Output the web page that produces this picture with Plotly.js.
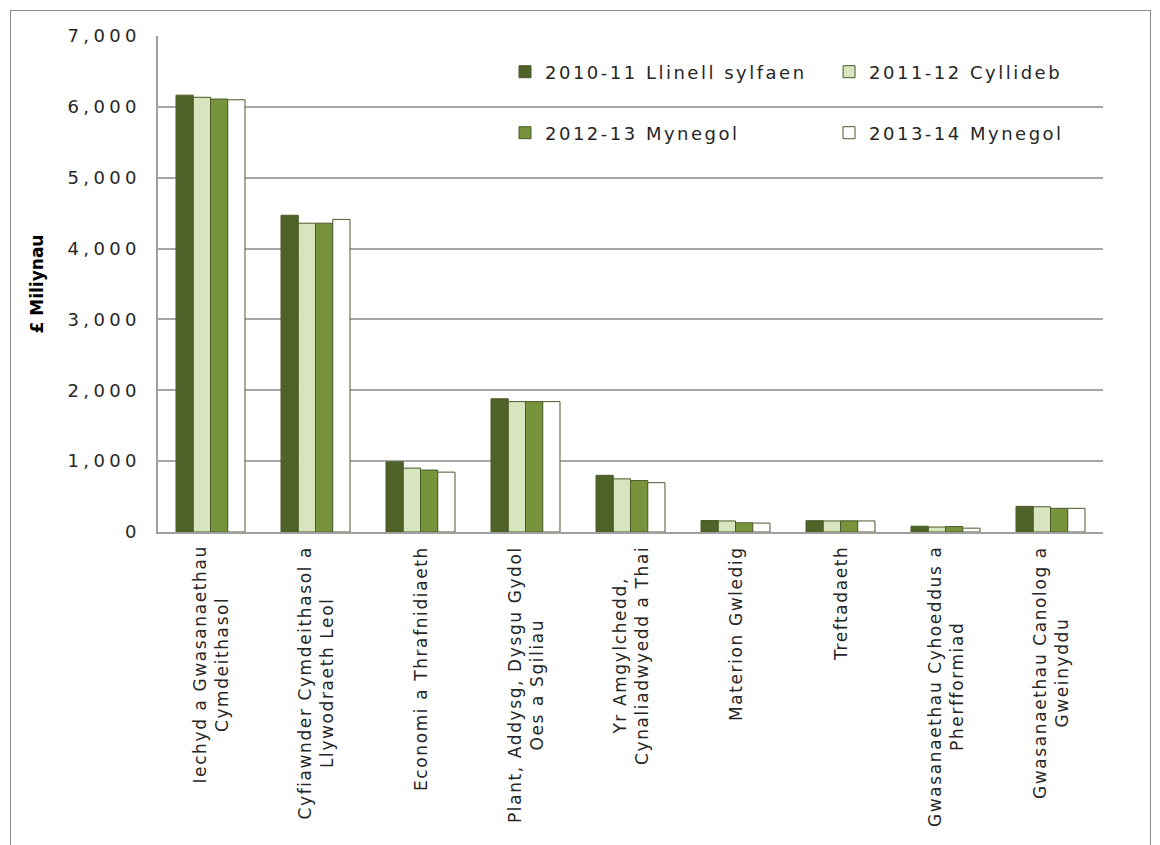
<!DOCTYPE html>
<html>
<head>
<meta charset="utf-8">
<script src="https://cdn.plot.ly/plotly-3.0.1.min.js"></script>
<style>
  html, body { margin: 0; padding: 0; background: #fff; }
  #chart { position: absolute; left: 0; top: 0; width: 1160px; height: 845px; }
  #frame { position: absolute; left: 10px; top: 10px; width: 1139px; height: 860px; border: 1px solid #8c8c8c; pointer-events: none; }
  #chart .ytick text { letter-spacing: 4.3px; }
  .legendtext, .legend2text, .legend3text, .legend4text { letter-spacing: 2.5px; }
  .annotation-text { letter-spacing: 1.6px; }
</style>
</head>
<body>
<div id="chart"></div>
<div id="frame"></div>
<script>
const categories = [
  "Iechyd a Gwasanaethau<br>Cymdeithasol",
  "Cyfiawnder Cymdeithasol a<br>Llywodraeth Leol",
  "Economi a Thrafnidiaeth",
  "Plant, Addysg, Dysgu Gydol<br>Oes a Sgiliau",
  "Yr Amgylchedd,<br>Cynaliadwyedd a Thai",
  "Materion Gwledig",
  "Treftadaeth",
  "Gwasanaethau Cyhoeddus a<br>Pherfformiad",
  "Gwasanaethau Canolog a<br>Gweinyddu"
];
const seriesNames = ["2010-11 Llinell sylfaen", "2011-12 Cyllideb", "2012-13 Mynegol", "2013-14 Mynegol"];
const baseline2010 = [6165, 4470, 990, 1880, 800, 162, 160, 82, 362];
const budget2011   = [6135, 4358, 902, 1840, 750, 156, 156, 70, 356];
const indic2012    = [6110, 4358, 874, 1840, 726, 130, 158, 77, 334];
const indic2013    = [6100, 4412, 845, 1840, 696, 126, 156, 54, 334];
const yTicks = [0, 1000, 2000, 3000, 4000, 5000, 6000, 7000];

const colors = ["#4f6228", "#d7e4bd", "#77933c", "#ffffff"];
const values = [baseline2010, budget2011, indic2012, indic2013];
const legendIds = ["legend", "legend2", "legend3", "legend4"];

const traces = values.map((v, i) => ({
  type: "bar",
  name: seriesNames[i],
  x: categories,
  y: v,
  marker: { color: colors[i], line: { color: "#4a5a2a", width: 1 } },
  legend: legendIds[i],
  hoverinfo: "x+y+name"
}));

const fontFam = "DejaVu Sans, Verdana, sans-serif";
const legendBase = {
  orientation: "h",
  bgcolor: "rgba(0,0,0,0)",
  font: { family: fontFam, size: 18, color: "#262626" },
  xanchor: "left",
  yanchor: "middle"
};

const annotations = categories.map(c => ({
  x: c, xref: "x", y: 0, yref: "paper",
  yanchor: "top", xanchor: "center", yshift: -12,
  text: c, textangle: -90, align: "center", showarrow: false,
  font: { family: fontFam, size: 17, color: "#262626" }
}));

const layout = {
  width: 1160, height: 845,
  margin: { l: 158, r: 57, t: 36, b: 313 },
  paper_bgcolor: "#ffffff",
  plot_bgcolor: "#ffffff",
  barmode: "group",
  bargap: 0.343,
  bargroupgap: 0,
  xaxis: {
    type: "category",
    showticklabels: false,
    showline: true, linecolor: "#a0a0a0", linewidth: 2,
    ticks: "", showgrid: false
  },
  yaxis: {
    range: [0, 7000],
    tickvals: yTicks,
    tickformat: ",d",
    showgrid: true, gridcolor: "#a6a6a6", gridwidth: 1.5,
    zeroline: false,
    showline: true, linecolor: "#a0a0a0", linewidth: 1.5,
    ticks: "", ticklen: 0,
    ticklabelstandoff: 12,
    tickfont: { family: fontFam, size: 18, color: "#262626" },
    title: { text: "£ Miliynau", font: { family: fontFam, size: 17, color: "#000", weight: "bold" }, standoff: 41 }
  },
  legend:  Object.assign({}, legendBase, { x: 0.3672, y: 0.9274 }),
  legend2: Object.assign({}, legendBase, { x: 0.7101, y: 0.9274 }),
  legend3: Object.assign({}, legendBase, { x: 0.3672, y: 0.8044 }),
  legend4: Object.assign({}, legendBase, { x: 0.7101, y: 0.8044 }),
  annotations: annotations,
  showlegend: true
};

Plotly.newPlot("chart", traces, layout, { displayModeBar: false, responsive: false });
</script>
</body>
</html>
